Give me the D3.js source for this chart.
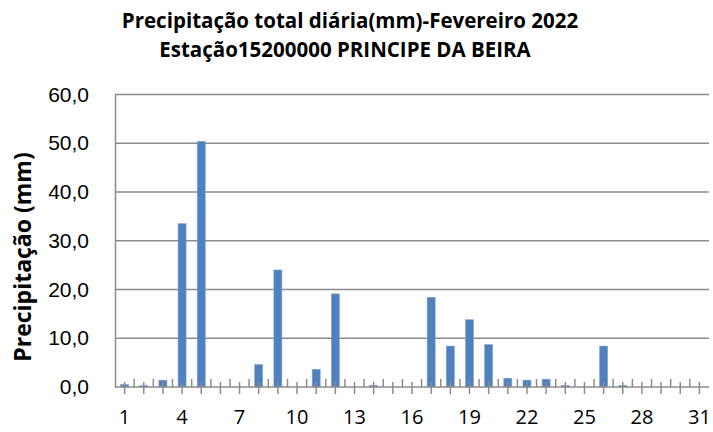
<!DOCTYPE html>
<html>
<head>
<meta charset="utf-8">
<script src="https://cdn.jsdelivr.net/npm/d3@7"></script>
<style>
  body { margin: 0; background: #fff; }
  svg { font-family: "Open Sans", "Noto Sans", sans-serif; }
</style>
</head>
<body>
<div id="chart"></div>
<script>
// Daily values (mm), Feb 2022
const days = d3.range(1, 32);
const rain = [0.5, 0.3, 1.4, 33.5, 50.4, 0, 0, 4.6, 24.0, 0,
              3.6, 19.1, 0, 0.3, 0, 0, 18.4, 8.4, 13.8, 8.7,
              1.8, 1.4, 1.6, 0.3, 0, 8.4, 0.3, 0, 0, 0, 0];
const yTicks = [0, 10, 20, 30, 40, 50, 60];
const xLabels = [1, 4, 7, 10, 13, 16, 19, 22, 25, 28, 31];

const width = 713, height = 432;
const margin = { top: 94.5, right: 4, bottom: 45, left: 115 };

const svg = d3.select("#chart").append("svg")
    .attr("width", width)
    .attr("height", height);

const x = d3.scaleBand()
    .domain(days)
    .range([margin.left, width - margin.right]);

const y = d3.scaleLinear()
    .domain([0, 60])
    .range([height - margin.bottom, margin.top]);

const fmt = v => v.toFixed(1).replace(".", ",");

// Gridlines
svg.append("g")
    .selectAll("line")
    .data(yTicks.filter(d => d > 0))
    .enter()
    .append("line")
    .attr("x1", margin.left)
    .attr("x2", width - margin.right)
    .attr("y1", d => y(d))
    .attr("y2", d => y(d))
    .attr("stroke", "#8c8c8c")
    .attr("stroke-width", 1.5);

// Y axis
const yAxis = svg.append("g")
    .attr("transform", `translate(${margin.left},0)`)
    .call(d3.axisLeft(y).tickValues(yTicks).tickFormat(fmt).tickSize(0).tickPadding(26));
yAxis.select(".domain").attr("stroke", "#8c8c8c").attr("stroke-width", 1.5);
yAxis.selectAll("text")
    .attr("font-size", 21)
    .attr("fill", "#000");

// Bars
const barW = 8;
svg.append("g")
    .selectAll("rect")
    .data(rain)
    .enter()
    .append("rect")
    .attr("x", (d, i) => x(days[i]) + x.bandwidth() / 2 - barW / 2)
    .attr("y", d => y(d))
    .attr("width", barW)
    .attr("height", d => y(0) - y(d))
    .attr("fill", "#4f81bd")
    .attr("stroke", "#7fa3d0")
    .attr("stroke-width", 0.6);

// X axis line
const y0 = y(0);
svg.append("line")
    .attr("x1", margin.left)
    .attr("x2", width - margin.right)
    .attr("y1", y0)
    .attr("y2", y0)
    .attr("stroke", "#8c8c8c")
    .attr("stroke-width", 1.5);

// Tick marks: boundaries go up, centres cross the axis
svg.append("g")
    .selectAll("line")
    .data(days.slice(1))
    .enter()
    .append("line")
    .attr("x1", d => x(d))
    .attr("x2", d => x(d))
    .attr("y1", y0 - 8)
    .attr("y2", y0)
    .attr("stroke", "#8c8c8c")
    .attr("stroke-width", 1.5);

svg.append("g")
    .selectAll("line")
    .data(days)
    .enter()
    .append("line")
    .attr("x1", d => x(d) + x.bandwidth() / 2)
    .attr("x2", d => x(d) + x.bandwidth() / 2)
    .attr("y1", y0 - 5)
    .attr("y2", y0 + 7)
    .attr("stroke", "#8c8c8c")
    .attr("stroke-width", 1.5);

// X labels
svg.append("g")
    .selectAll("text")
    .data(xLabels)
    .enter()
    .append("text")
    .attr("x", d => x(d) + x.bandwidth() / 2)
    .attr("y", 424)
    .attr("text-anchor", "middle")
    .attr("font-size", 20)
    .text(d => d);

// Title
const title = svg.append("text")
    .attr("text-anchor", "middle")
    .attr("font-weight", "bold")
    .attr("font-size", 20.5);
title.append("tspan").attr("x", 350).attr("y", 28).text("Precipitação total diária(mm)-Fevereiro 2022");
title.append("tspan").attr("x", 345).attr("y", 57).text("Estação15200000 PRINCIPE DA BEIRA");

// Y axis title
svg.append("text")
    .attr("transform", "translate(31,257) rotate(-90)")
    .attr("text-anchor", "middle")
    .attr("font-weight", "bold")
    .attr("font-size", 23)
    .text("Precipitação (mm)");
</script>
</body>
</html>
